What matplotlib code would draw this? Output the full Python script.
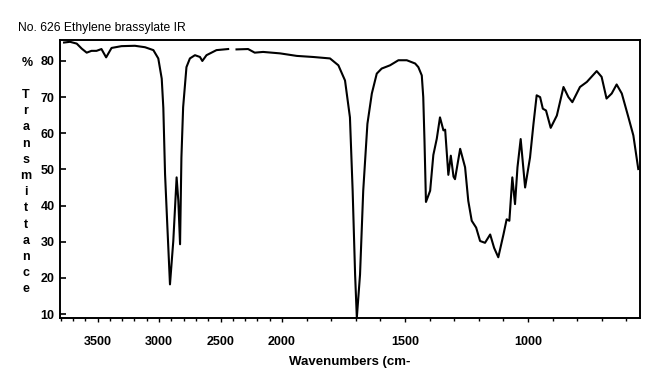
import numpy as np
import matplotlib
matplotlib.use("Agg")
import matplotlib.pyplot as plt

plt.rcParams['font.family'] = ['Liberation Sans', 'DejaVu Sans']

title = "No. 626 Ethylene brassylate IR"
xlabel = "Wavenumbers (cm-"
ylabel_letters = list("Transmittance")

wavenumber = [3772, 3724, 3669, 3628, 3588, 3549, 3508, 3468, 3430, 3386, 3305, 3196,
              3114, 3046, 3006, 2978, 2965, 2951, 2933, 2911, 2884, 2857, 2843, 2829,
              2818, 2804, 2777, 2749, 2708, 2667, 2648, 2614, 2533, 2438, 2405, 2370,
              2276, 2222, 2154, 2016, 1940, 1873, 1805, 1771, 1744, 1724, 1713, 1703,
              1696, 1683, 1670, 1653, 1635, 1615, 1595, 1561, 1527, 1493, 1459, 1446,
              1432, 1426, 1421, 1415, 1398, 1385, 1371, 1358, 1344, 1337, 1324, 1314,
              1303, 1297, 1276, 1256, 1243, 1229, 1211, 1195, 1175, 1154, 1138, 1121,
              1100, 1087, 1076, 1064, 1053, 1043, 1030, 1012, 992, 978, 965, 951,
              940, 927, 908, 883, 856, 836, 820, 789, 761, 721, 701, 681,
              660, 640, 619, 592, 572, 552]
transmittance = [85.1, 85.3, 84.8, 83.4, 82.3, 82.8, 82.8, 83.3, 81.0, 83.6, 84.1, 84.2,
                 83.8, 83.0, 80.7, 75.1, 67.0, 48.7, 34.8, 18.2, 30.2, 47.8, 41.3, 29.3,
                 53.3, 67.2, 78.3, 80.7, 81.6, 81.1, 80.0, 81.6, 83.0, 83.3, np.nan, 83.2,
                 83.3, 82.3, 82.5, 82.1, 81.4, 81.1, 80.7, 78.8, 74.6, 64.4, 44.1, 20.9,
                 9.0, 20.9, 44.1, 62.6, 71.0, 76.5, 77.9, 78.8, 80.2, 80.2, 79.3, 78.3,
                 76.0, 70.0, 58.0, 41.0, 44.1, 54.0, 58.5, 64.4, 60.8, 61.0, 48.5, 53.8,
                 48.0, 47.3, 55.7, 50.6, 41.3, 35.8, 33.9, 30.2, 29.7, 32.0, 28.3, 25.7,
                 32.0, 36.2, 35.8, 47.8, 40.4, 50.6, 58.4, 45.0, 53.3, 62.6, 70.5, 70.0,
                 66.8, 66.3, 61.5, 64.9, 72.8, 70.0, 68.6, 72.8, 74.2, 77.2, 75.6, 69.6,
                 71.0, 73.5, 71.0, 64.4, 59.4, 50.1]

xticks = [3500, 3000, 2500, 2000, 1500, 1000]
yticks = [10, 20, 30, 40, 50, 60, 70, 80]


def fwd(w):
    w = np.asarray(w, dtype=float)
    return np.where(w > 2000, 2000 + (w - 2000) / 2.0, w)


def inv(u):
    u = np.asarray(u, dtype=float)
    return np.where(u > 2000, 2000 + (u - 2000) * 2.0, u)


fig = plt.figure(figsize=(6.5, 3.76), dpi=100)
ax = fig.add_axes([60 / 650, 1 - 318 / 376, 580 / 650, 278 / 376])
ax.set_xscale('function', functions=(fwd, inv))
ax.plot(wavenumber, transmittance, color='black', lw=1.5, solid_joinstyle='round')
ax.set_xlim(3805, 545)
ax.set_ylim(8.9, 85.8)

ax.set_xticks(xticks)
ax.set_xticklabels([str(v) for v in xticks], fontweight='bold', fontsize=9)
minor = [v for v in range(3800, 500, -100) if v not in xticks]
ax.set_xticks(minor, minor=True)
ax.tick_params(axis='x', which='major', direction='out', length=3, width=1, pad=10)
ax.tick_params(axis='x', which='minor', direction='out', length=2.5, width=1)
ax.set_yticks(yticks)
ax.set_yticklabels([str(v) for v in yticks], fontweight='bold', fontsize=9)
ax.tick_params(axis='y', direction='in', length=4, width=1.2, pad=4)
ax.yaxis.set_minor_locator(matplotlib.ticker.NullLocator())
for s in ax.spines.values():
    s.set_linewidth(1.4)

ax.set_xlabel(xlabel, fontweight='bold', fontsize=9.5, labelpad=6)

fig.text(18 / 650, 1 - 31 / 376, title, fontsize=8.7, ha='left', va='baseline')
fig.text(27 / 650, 1 - 63 / 376, "%", fontsize=9, fontweight='bold', ha='center', va='center')
for i, ch in enumerate(ylabel_letters):
    fig.text(26 / 650, 1 - (95 + i * 16.2) / 376, ch.upper() if i == 0 else ch,
             fontsize=9, fontweight='bold', ha='center', va='center')

fig.savefig("out.png", dpi=100)
